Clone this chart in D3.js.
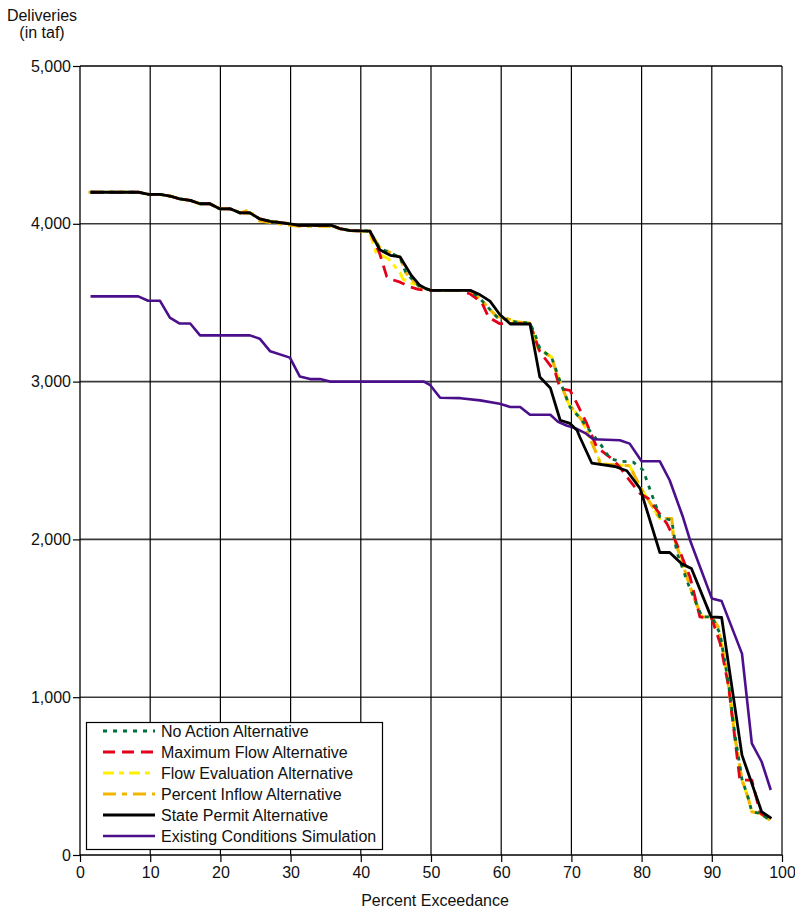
<!DOCTYPE html>
<html>
<head>
<meta charset="utf-8">
<script src="https://cdn.jsdelivr.net/npm/d3@7"></script>
<style>
  html, body { margin: 0; padding: 0; background: #fff; }
  svg { display: block; font-family: "Liberation Sans", Arial, Helvetica, sans-serif; }
</style>
</head>
<body>
<svg id="chart" width="795" height="912"></svg>
<script>
// Exceedance curves: [percent exceedance, deliveries in taf]
const noAction = [
  [1.5,4200],[8.3,4200],[9.8,4186],[11.4,4186],[12.8,4176],[14.2,4158],[15.7,4148],[17.1,4127],[18.5,4127],
  [19.9,4095],[21.4,4095],[22.8,4069],[24.2,4069],[25.6,4031],[27.1,4016],[29.9,4000],[31.3,3990],[35.8,3990],
  [37.0,3970],[38.5,3957],[41.3,3954],[42.7,3845],[45.6,3788],[46.4,3690],[47.5,3640],[48.4,3600],[50.0,3578],
  [55.6,3578],[57.0,3525],[59.4,3409],[62.2,3377],[64.1,3370],[64.8,3303],[65.5,3210],[67.2,3150],[68.4,3000],
  [69.8,2839],[71.5,2755],[72.2,2712],[74.1,2607],[75.5,2511],[76.9,2495],[78.8,2490],[80.2,2440],[82.6,2143],
  [84.3,2120],[85.0,1920],[86.7,1710],[88.6,1509],[90.0,1509],[91.2,1400],[92.4,1080],[93.3,760],[94.3,480],
  [95.2,360],[95.7,275],[96.9,263],[98.3,222]
];
const maximumFlow = [
  [1.5,4200],[8.3,4200],[9.8,4186],[11.4,4186],[12.8,4176],[14.2,4158],[15.7,4148],[17.1,4127],[18.5,4127],
  [19.9,4095],[21.4,4095],[22.8,4069],[24.2,4069],[25.6,4031],[27.1,4016],[29.9,4000],[31.3,3990],[35.8,3990],
  [37.0,3970],[38.5,3957],[41.3,3954],[42.7,3810],[43.7,3665],[44.2,3650],[45.6,3630],[47.0,3600],[48.2,3584],
  [50.0,3578],[54.1,3578],[55.6,3555],[57.2,3504],[58.2,3409],[59.8,3367],[64.1,3367],[65.5,3190],[67.7,3060],
  [68.4,2955],[69.8,2945],[70.8,2860],[72.2,2733],[73.6,2586],[76.0,2502],[76.9,2458],[77.9,2395],[79.8,2290],
  [81.0,2258],[83.6,2100],[85.0,1973],[86.9,1762],[88.3,1509],[90.0,1498],[91.2,1340],[92.4,1066],[94.0,475],
  [95.7,475],[96.9,265],[98.3,225]
];
const flowEvaluation = [
  [1.5,4200],[8.3,4200],[9.8,4186],[11.4,4186],[12.8,4176],[14.2,4158],[15.7,4148],[17.1,4127],[18.5,4127],
  [19.9,4095],[21.4,4095],[22.8,4069],[24.2,4069],[25.6,4031],[27.1,4016],[29.9,4000],[31.3,3990],[35.8,3990],
  [37.0,3970],[38.5,3957],[40.0,3955],[41.3,3940],[42.2,3815],[43.9,3780],[45.6,3690],[46.0,3650],[48.4,3600],
  [50.0,3578],[55.6,3578],[57.0,3525],[59.4,3409],[62.2,3377],[64.1,3370],[65.3,3207],[67.2,3155],[67.9,3049],
  [68.4,2997],[69.6,2860],[71.5,2755],[73.8,2522],[74.1,2479],[78.3,2467],[79.8,2332],[82.6,2132],[84.3,2132],
  [84.5,2027],[85.9,1837],[87.4,1636],[88.6,1509],[90.0,1509],[90.9,1446],[92.1,1172],[93.1,855],[93.3,749],
  [94.3,475],[95.2,358],[95.7,274],[96.9,263],[98.3,222]
];
const percentInflow = [
  [1.2,4200],[8.3,4200],[9.8,4186],[11.4,4186],[12.8,4176],[14.2,4158],[15.7,4148],[17.1,4127],[18.5,4127],
  [19.9,4095],[21.4,4095],[22.8,4069],[24.2,4090],[25.2,4020],[27.1,4008],[29.9,3990],[31.3,3985],[35.8,3985],
  [37.0,3968],[38.5,3957],[41.3,3954],[42.7,3850],[45.6,3788],[46.4,3690],[47.5,3640],[48.4,3600],[50.0,3578],
  [55.6,3578],[57.0,3525],[59.4,3409],[60.1,3413],[62.2,3377],[64.1,3371],[65.3,3207],[67.2,3155],[67.9,3049],
  [68.4,2997],[69.6,2860],[71.5,2755],[73.8,2522],[74.1,2479],[78.3,2467],[79.8,2332],[82.6,2132],[84.3,2132],
  [84.5,2027],[85.9,1837],[87.4,1636],[88.6,1509],[90.0,1509],[90.9,1446],[92.1,1172],[92.6,982],[93.3,749],
  [94.3,475],[95.2,358],[95.7,274],[96.9,263],[98.3,222]
];
const statePermit = [
  [1.5,4200],[8.3,4200],[9.8,4186],[11.4,4186],[12.8,4176],[14.2,4158],[15.7,4148],[17.1,4127],[18.5,4127],
  [19.9,4095],[21.4,4095],[22.8,4069],[24.2,4069],[25.6,4031],[27.1,4016],[29.9,4000],[31.3,3990],[35.8,3990],
  [37.0,3970],[38.5,3957],[41.3,3954],[42.7,3835],[44.2,3800],[45.6,3790],[47.2,3673],[48.4,3610],[49.3,3589],
  [50.0,3578],[55.6,3578],[57.0,3550],[58.4,3510],[59.8,3425],[61.3,3365],[64.1,3365],[65.5,3029],[67.0,2960],
  [68.4,2755],[69.8,2735],[70.8,2692],[71.2,2649],[72.9,2484],[76.2,2462],[77.9,2435],[79.8,2322],[82.6,1917],
  [84.0,1917],[85.7,1845],[87.1,1816],[89.9,1509],[91.4,1505],[94.3,633],[97.1,274],[98.5,232]
];
const existingConditions = [
  [1.5,3540],[8.3,3540],[9.7,3512],[11.4,3512],[12.8,3405],[14.2,3368],[15.7,3368],[17.1,3293],[24.2,3293],
  [25.6,3272],[27.1,3192],[29.9,3152],[31.3,3033],[32.8,3016],[34.2,3016],[35.6,3000],[49.0,3000],[49.9,2977],
  [51.3,2898],[54.2,2895],[57.0,2881],[59.8,2860],[61.3,2839],[62.7,2839],[64.1,2790],[67.0,2790],[68.1,2745],
  [69.3,2722],[70.7,2702],[72.1,2670],[73.1,2635],[76.9,2628],[78.3,2607],[80.0,2495],[82.6,2495],[84.0,2375],
  [85.9,2140],[86.9,1995],[90.0,1626],[91.4,1609],[94.3,1276],[95.7,707],[97.1,591],[98.4,412]
];

const xTicks = [0, 10, 20, 30, 40, 50, 60, 70, 80, 90, 100];
const yTicks = [0, 1000, 2000, 3000, 4000, 5000];

const seriesNames = [
  "No Action Alternative",
  "Maximum Flow Alternative",
  "Flow Evaluation Alternative",
  "Percent Inflow Alternative",
  "State Permit Alternative",
  "Existing Conditions Simulation"
];
const seriesData = [noAction, maximumFlow, flowEvaluation, percentInflow, statePermit, existingConditions];
const seriesStyle = [
  { color: "#00703c", dash: "4,6",       width: 2.8 },
  { color: "#e2001a", dash: "12,7",      width: 2.8 },
  { color: "#fff000", dash: "11,5,5,5",  width: 3 },
  { color: "#f2b500", dash: "13,6,5,6",  width: 3 },
  { color: "#000000", dash: null,        width: 2.8 },
  { color: "#4b0f8c", dash: null,        width: 2.6 }
];
// drawing order: yellow, orange, red, green, purple, black on top
const drawOrder = [2, 3, 1, 0, 5, 4];

const svg = d3.select("#chart");
const plotLeft = 80, plotRight = 782, plotTop = 66, plotBottom = 855;

const x = d3.scaleLinear().domain([0, 100]).range([plotLeft, plotRight]);
const y = d3.scaleLinear().domain([0, 5000]).range([plotBottom, plotTop]);

const fontSize = 16;

// gridlines
const grid = svg.append("g");
grid.selectAll("line.h").data(yTicks.filter(d => d > 0)).enter().append("line")
  .attr("x1", plotLeft).attr("x2", plotRight)
  .attr("y1", d => y(d)).attr("y2", d => y(d))
  .attr("stroke", d => d === 5000 ? "#000" : "#3a3a3a").attr("stroke-width", 1.6);
grid.selectAll("line.v").data(xTicks.filter(d => d > 0)).enter().append("line")
  .attr("x1", d => x(d)).attr("x2", d => x(d))
  .attr("y1", plotTop).attr("y2", plotBottom)
  .attr("stroke", "#000").attr("stroke-width", 1.2);

// axes
const yAxis = d3.axisLeft(y).tickValues(yTicks).tickFormat(d3.format(",")).tickSize(7).tickPadding(2);
const xAxis = d3.axisBottom(x).tickValues(xTicks).tickSize(7).tickPadding(5);

const gy = svg.append("g").attr("transform", `translate(${plotLeft},0)`).call(yAxis);
const gx = svg.append("g").attr("transform", `translate(0,${plotBottom})`).call(xAxis);
[gx, gy].forEach(g => {
  g.select(".domain").attr("stroke", "#000").attr("stroke-width", 1.3);
  g.selectAll(".tick line").attr("stroke", "#000").attr("stroke-width", 1.2);
  g.selectAll(".tick text").attr("fill", "#111").attr("font-size", fontSize)
    .attr("font-family", "'Liberation Sans', Arial, sans-serif");
});
gx.select(".domain").attr("d", `M${plotLeft},0H${plotRight}`);
gy.select(".domain").attr("d", `M0,${plotBottom}V${plotTop}`);

// curves
const line = d3.line().x(d => x(d[0])).y(d => y(d[1]));
const curves = svg.append("g");
drawOrder.forEach(i => {
  const st = seriesStyle[i];
  curves.append("path")
    .datum(seriesData[i])
    .attr("d", line)
    .attr("fill", "none")
    .attr("stroke", st.color)
    .attr("stroke-width", st.width)
    .attr("stroke-linejoin", "round")
    .attr("stroke-dasharray", st.dash);
});

// axis titles
svg.append("text").attr("x", 42).attr("y", 21).attr("text-anchor", "middle")
  .attr("font-size", fontSize).attr("fill", "#111").text("Deliveries");
svg.append("text").attr("x", 42).attr("y", 38).attr("text-anchor", "middle")
  .attr("font-size", fontSize).attr("fill", "#111").text("(in taf)");
svg.append("text").attr("x", 435).attr("y", 906).attr("text-anchor", "middle")
  .attr("font-size", fontSize).attr("fill", "#111").text("Percent Exceedance");

// legend
const legend = svg.append("g");
legend.append("rect").attr("x", 86.5).attr("y", 722.5).attr("width", 296).attr("height", 127)
  .attr("fill", "#fff").attr("stroke", "#000").attr("stroke-width", 1.2);
seriesNames.forEach((name, i) => {
  const ly = 731 + i * 21;
  const st = seriesStyle[i];
  legend.append("line").attr("x1", 103).attr("x2", 155).attr("y1", ly).attr("y2", ly)
    .attr("stroke", st.color).attr("stroke-width", st.width)
    .attr("stroke-dasharray", st.dash);
  legend.append("text").attr("x", 161).attr("y", ly + 5.5)
    .attr("font-size", fontSize).attr("fill", "#111").text(name);
});
</script>
</body>
</html>
